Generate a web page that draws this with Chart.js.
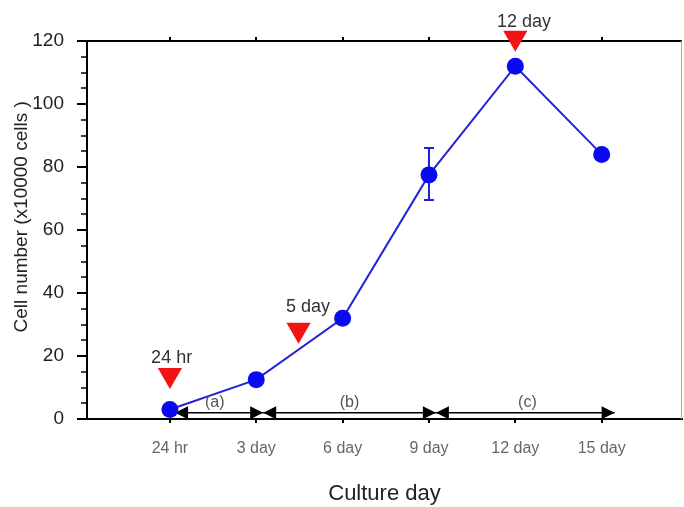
<!DOCTYPE html>
<html>
<head>
<meta charset="utf-8">
<script src="https://cdn.jsdelivr.net/npm/chart.js@4"></script>
<style>
  html, body { margin: 0; padding: 0; background: #fff; overflow: hidden; }
  #wrap { width: 684px; height: 507px; }
</style>
</head>
<body>
<div id="wrap"><canvas id="myChart"></canvas></div>
<script>
// Data
const days = ['24 hr', '3 day', '6 day', '9 day', '12 day', '15 day'];
const cells = [3, 12.5, 32, 77.5, 112, 84];
const errLow = [null, null, null, 69.5, null, null];
const errHigh = [null, null, null, 86, null, null];

// red markers (media change) and their labels
const markX = [0, 1.49, 4];
const markY = [14, 28.3, 121];
const markText = ['24 hr', '5 day', '12 day'];
const markTextX = [0.02, 1.6, 4.1];
const markTextY = [19.4, 35.6, 126];

// phase arrows
const phaseText = ['(a)', '(b)', '(c)'];
const phaseStart = [0.06, 1.08, 3.08];
const phaseEnd = [1.08, 3.08, 5.15];
const phaseTextX = [0.52, 2.08, 4.14];

const yTicks = [0, 20, 40, 60, 80, 100, 120];

const FONT = '"Liberation Sans", Arial, sans-serif';

// extra drawing: frame, minor ticks, error bars, arrows, labels
const extras = {
    id: 'extras',
    beforeDatasetsDraw(chart) {
        const { ctx, chartArea: a, scales: { x, y } } = chart;
        ctx.save();
        // top frame line
        ctx.strokeStyle = '#000';
        ctx.lineWidth = 2;
        ctx.beginPath();
        ctx.moveTo(a.left - 1, a.top);
        ctx.lineTo(a.right, a.top);
        ctx.stroke();
        // top ticks
        days.forEach((d, i) => {
            const px = Math.round(x.getPixelForValue(i));
            ctx.beginPath();
            ctx.moveTo(px, a.top);
            ctx.lineTo(px, a.top - 4);
            ctx.stroke();
        });
        // right frame line
        ctx.strokeStyle = '#aaa';
        ctx.lineWidth = 1;
        ctx.beginPath();
        ctx.moveTo(a.right - 0.5, a.top);
        ctx.lineTo(a.right - 0.5, a.bottom);
        ctx.stroke();
        // minor y ticks
        ctx.strokeStyle = '#000';
        ctx.lineWidth = 1.5;
        for (let v = 5; v < 120; v += 5) {
            if (v % 20 === 0) continue;
            const py = Math.round(y.getPixelForValue(v));
            ctx.beginPath();
            ctx.moveTo(a.left, py);
            ctx.lineTo(a.left - 6, py);
            ctx.stroke();
        }
        // error bars
        ctx.strokeStyle = '#1f1fd6';
        ctx.lineWidth = 2;
        cells.forEach((c, i) => {
            if (errLow[i] == null) return;
            const px = x.getPixelForValue(i);
            const lo = y.getPixelForValue(errLow[i]);
            const hi = y.getPixelForValue(errHigh[i]);
            ctx.beginPath();
            ctx.moveTo(px, lo); ctx.lineTo(px, hi);
            ctx.moveTo(px - 5, lo); ctx.lineTo(px + 5, lo);
            ctx.moveTo(px - 5, hi); ctx.lineTo(px + 5, hi);
            ctx.stroke();
        });
        // phase arrows
        const ay = y.getPixelForValue(2);
        ctx.strokeStyle = '#000';
        ctx.fillStyle = '#000';
        ctx.lineWidth = 1.5;
        phaseStart.forEach((s, i) => {
            const x1 = x.getPixelForValue(s);
            const x2 = x.getPixelForValue(phaseEnd[i]);
            ctx.beginPath();
            ctx.moveTo(x1, ay); ctx.lineTo(x2, ay);
            ctx.stroke();
            ctx.beginPath();
            ctx.moveTo(x1, ay); ctx.lineTo(x1 + 13, ay - 6.5); ctx.lineTo(x1 + 13, ay + 6.5);
            ctx.closePath();
            ctx.moveTo(x2, ay); ctx.lineTo(x2 - 13, ay - 6.5); ctx.lineTo(x2 - 13, ay + 6.5);
            ctx.closePath();
            ctx.fill();
        });
        ctx.restore();
    },
    afterDatasetsDraw(chart) {
        const { ctx, scales: { x, y } } = chart;
        ctx.save();
        ctx.textAlign = 'center';
        ctx.textBaseline = 'middle';
        ctx.font = '18px ' + FONT;
        ctx.fillStyle = '#333';
        markText.forEach((t, i) => {
            ctx.fillText(t, x.getPixelForValue(markTextX[i]), y.getPixelForValue(markTextY[i]));
        });
        ctx.font = '16px ' + FONT;
        ctx.fillStyle = '#555';
        phaseText.forEach((t, i) => {
            ctx.fillText(t, x.getPixelForValue(phaseTextX[i]), y.getPixelForValue(5.2));
        });
        ctx.restore();
    }
};

const ctx = document.getElementById('myChart').getContext('2d');
new Chart(ctx, {
    type: 'scatter',
    data: {
        datasets: [{
            label: 'Cell number',
            data: cells.map((v, i) => ({ x: i, y: v })),
            showLine: true,
            borderColor: '#2323d6',
            borderWidth: 2,
            backgroundColor: '#0a0af0',
            pointBackgroundColor: '#0a0af0',
            pointBorderWidth: 0,
            pointRadius: 8.5,
            pointHoverRadius: 8.5
        }, {
            label: 'Marks',
            data: markX.map((v, i) => ({ x: v, y: markY[i] })),
            pointStyle: 'triangle',
            rotation: 180,
            pointRadius: 14,
            pointHoverRadius: 14,
            pointBorderWidth: 0,
            backgroundColor: '#f01414',
            pointBackgroundColor: '#f01414',
            clip: false
        }]
    },
    options: {
        responsive: true,
        maintainAspectRatio: false,
        animation: false,
        layout: { autoPadding: false, padding: { top: 41, right: 2, left: 0, bottom: 0 } },
        plugins: {
            legend: { display: false },
            tooltip: { enabled: false }
        },
        scales: {
            x: {
                type: 'linear',
                min: -0.96,
                max: 5.93,
                afterBuildTicks: (scale) => { scale.ticks = days.map((d, i) => ({ value: i })); },
                afterFit: (scale) => {
                    scale.height = 88;
                    scale.paddingLeft = 0;
                    scale.paddingRight = 0;
                },
                border: { display: true, color: '#000', width: 2 },
                grid: { drawOnChartArea: false, tickLength: 4, color: '#000', lineWidth: 2 },
                ticks: {
                    callback: (v) => days[v],
                    color: '#666',
                    font: { family: FONT, size: 16 },
                    padding: 16,
                    maxRotation: 0
                },
                title: {
                    display: true,
                    text: 'Culture day',
                    color: '#222',
                    font: { family: FONT, size: 22 },
                    padding: { top: 10, bottom: 0 }
                }
            },
            y: {
                min: 0,
                max: 120,
                afterBuildTicks: (scale) => { scale.ticks = yTicks.map(v => ({ value: v })); },
                afterFit: (scale) => { scale.width = 87; },
                border: { display: true, color: '#000', width: 2 },
                grid: { drawOnChartArea: false, tickLength: 10, color: '#000', lineWidth: 2 },
                ticks: {
                    color: '#222',
                    font: { family: FONT, size: 19 },
                    padding: 13
                },
                title: {
                    display: true,
                    text: '     Cell number (x10000 cells )',
                    color: '#222',
                    font: { family: FONT, size: 19 },
                    padding: { top: 10, bottom: 0 }
                }
            }
        }
    },
    plugins: [extras]
});
</script>
</body>
</html>
